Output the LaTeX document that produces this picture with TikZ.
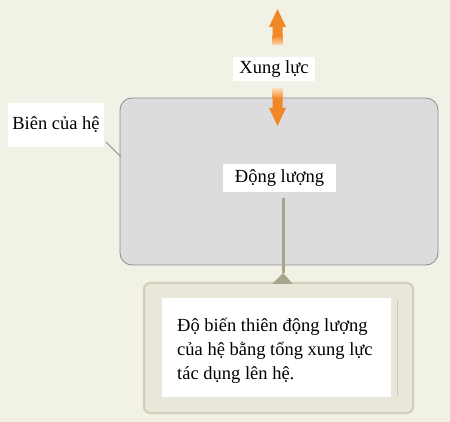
\documentclass[tikz,border=0pt]{standalone}
\usepackage{fontspec}
\setmainfont{Liberation Serif}
\begin{document}
\begin{tikzpicture}[x=1pt,y=-1pt,
  lbl/.style={fill=white,inner sep=0pt,font=\fontsize{18.5}{22}\selectfont,text=black}]
\definecolor{bgc}{RGB}{242,241,230}
\definecolor{grayfill}{RGB}{220,220,222}
\definecolor{grayline}{RGB}{140,140,140}
\definecolor{olive}{RGB}{168,166,138}
\definecolor{calfill}{RGB}{232,231,218}
\definecolor{calline}{RGB}{208,206,184}
\definecolor{orangeA}{RGB}{242,135,40}
\definecolor{orangeB}{RGB}{250,215,175}
\useasboundingbox (0,0) rectangle (450,422);
\fill[bgc] (0,0) rectangle (450,422);
% system box
\node[draw=grayline,fill=grayfill,rounded corners=12pt,line width=0.8pt,
      minimum width=318pt,minimum height=167pt,inner sep=0pt] (sys) at (279,181.5) {};
% label boundary
\node[lbl,minimum width=96pt,minimum height=44pt] (bien) at (56,125) {Biên của hệ};
\coordinate (bienend) at (121,157);
\draw[grayline,line width=0.8pt] (106,142) -- (bienend);
% up arrow
\fill[orangeA] (277.5,9) -- (286,27) -- (282.5,27) -- (282.5,36) -- (272.5,36) -- (272.5,27) -- (269,27) -- cycle;
\shade[top color=orangeA,bottom color=orangeB] (272.5,35.5) rectangle (282.5,45);
% down arrow
\shade[top color=orangeB,bottom color=orangeA] (272.5,89) rectangle (282.5,98.5);
\fill[orangeA] (277.5,126) -- (286,108) -- (282.5,108) -- (282.5,98) -- (272.5,98) -- (272.5,108) -- (269,108) -- cycle;
% Xung luc
\node[lbl,minimum width=82pt,minimum height=24pt] (xung) at (274,69) {Xung lực};
% Dong luong
\node[lbl,minimum width=113pt,minimum height=28pt] (dong) at (279.5,178) {Động lượng};
% callout
\node[draw=calline,fill=calfill,rounded corners=6pt,line width=2pt,
      minimum width=269pt,minimum height=130pt,inner sep=0pt] (call) at (278.5,348) {};
\draw[olive!60,line width=0.6pt] (397,300) -- (397,396);
\coordinate (apex) at (283,273);
\draw[olive,line width=3pt] (283,198) -- (apex);
\fill[olive] (apex) -- (293,284) -- (272,284) -- cycle;
\node[fill=white,minimum width=229pt,minimum height=99pt,inner sep=0pt] (inner) at (276.5,347.5) {};
\node[anchor=west,inner sep=0pt,align=left,font=\fontsize{18.5}{24}\selectfont] (txt) at (177,351)
  {Độ biến thiên động lượng\\của hệ bằng tổng xung lực\\tác dụng lên hệ.};
\end{tikzpicture}
\end{document}
